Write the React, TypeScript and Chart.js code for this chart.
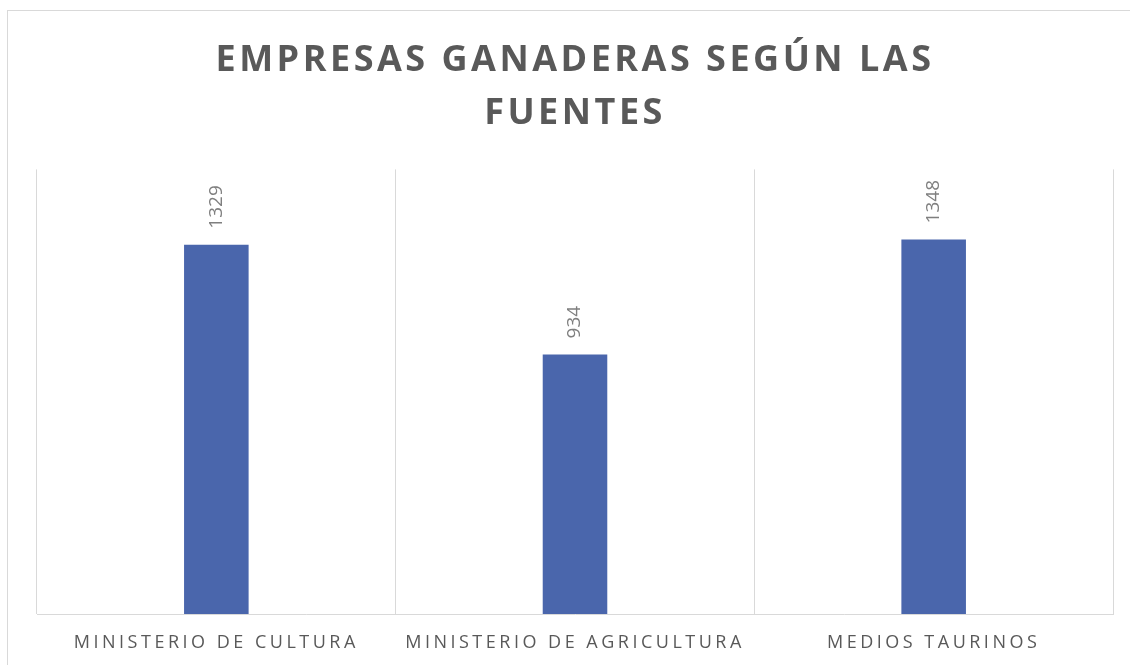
import React, { useEffect, useRef } from "react";
import { Chart, registerables } from "chart.js";

Chart.register(...registerables);

const categories = ["MINISTERIO DE CULTURA", "MINISTERIO DE AGRICULTURA", "MEDIOS TAURINOS"];
const values = [1329, 934, 1348];
const titleLines = ["EMPRESAS GANADERAS SEGÚN LAS", "FUENTES"];

const FONT = "'Open Sans', sans-serif";
const SPACING = "3.5px";

const framePlugin = {
  id: "frame",
  beforeDraw(chart: any) {
    const ctx = chart.ctx;
    ctx.save();
    ctx.strokeStyle = "#d9d9d9";
    ctx.lineWidth = 1;
    ctx.strokeRect(7.5, 10.5, 1200, 800);
    ctx.restore();
    (ctx as any).letterSpacing = SPACING;
  },
};

const labelsPlugin = {
  id: "valueLabels",
  afterDatasetsDraw(chart: any) {
    const ctx = chart.ctx;
    const meta = chart.getDatasetMeta(0);
    ctx.save();
    (ctx as any).letterSpacing = "0px";
    ctx.fillStyle = "#7f7f7f";
    ctx.font = `19px ${FONT}`;
    ctx.textAlign = "left";
    ctx.textBaseline = "middle";
    meta.data.forEach((bar: any, i: number) => {
      ctx.save();
      ctx.translate(bar.x, bar.y - 16);
      ctx.rotate(-Math.PI / 2);
      ctx.fillText(String(values[i]), 0, 0);
      ctx.restore();
    });
    ctx.restore();
    (ctx as any).letterSpacing = SPACING;
  },
};

export default function App() {
  const ref = useRef<HTMLCanvasElement>(null);
  useEffect(() => {
    const chart = new Chart(ref.current!, {
      type: "bar",
      data: {
        labels: categories,
        datasets: [
          {
            data: values,
            backgroundColor: "#4a66ac",
            barPercentage: 0.36,
            categoryPercentage: 0.5,
          },
        ],
      },
      options: {
        animation: false,
        responsive: false,
        layout: { padding: { left: 37, right: 17, top: 35, bottom: 0 } },
        plugins: {
          legend: { display: false },
          tooltip: { enabled: false },
          title: {
            display: true,
            text: titleLines,
            color: "#595959",
            font: { family: FONT, size: 36, weight: "bold", lineHeight: 1.45 },
            padding: { top: 0, bottom: 30 },
          },
        },
        scales: {
          x: {
            grid: { color: "#d9d9d9", drawTicks: false, offset: true },
            border: { color: "#d9d9d9" },
            ticks: {
              color: "#595959",
              font: { family: FONT, size: 18 },
              padding: 18,
              maxRotation: 0,
              autoSkip: false,
            },
            afterFit(scale: any) {
              scale.height = 51;
            },
          },
          y: { display: false, min: 0, max: 1600 },
        },
      },
      plugins: [framePlugin, labelsPlugin],
    });
    return () => chart.destroy();
  }, []);
  return (
    <div style={{ position: "absolute", left: 0, top: 0, width: 1130, height: 665, background: "#fff" }}>
      <canvas ref={ref} width={1130} height={665} />
    </div>
  );
}
